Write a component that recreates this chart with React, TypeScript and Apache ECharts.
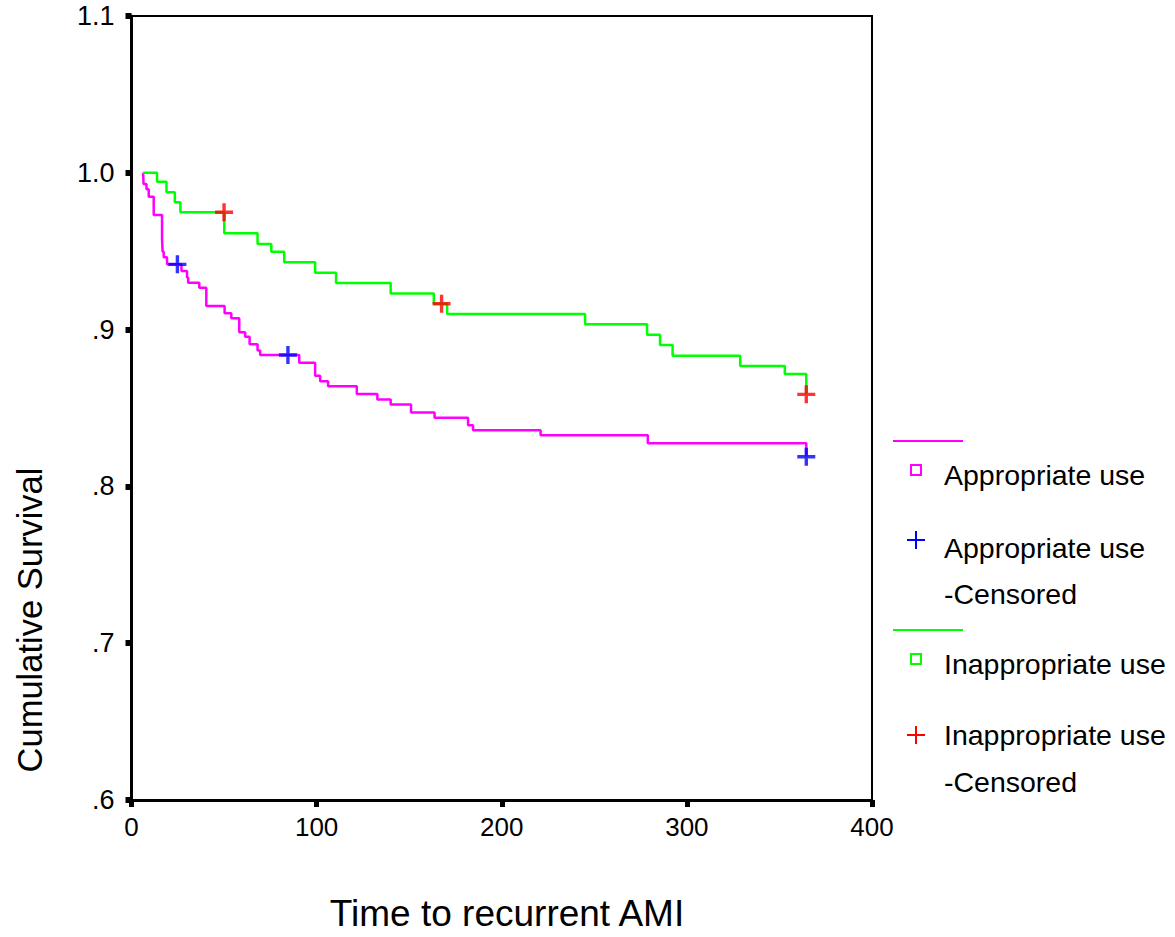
import React, { useEffect, useRef } from "react";
import * as echarts from "echarts";

// Kaplan-Meier step points: [time, survival after event]
const appropriateSteps: [number, number][] = [
  [6.3, 1.0], [6.5, 0.9929], [8.1, 0.9895], [9.3, 0.9848], [12.0, 0.9731],
  [16.5, 0.9578], [16.8, 0.9497], [17.4, 0.9461], [19.2, 0.9416], [27.0, 0.9374],
  [30.0, 0.9333], [30.6, 0.9299], [36.6, 0.9267], [40.4, 0.915], [50.3, 0.9104],
  [53.9, 0.9072], [58.2, 0.8983], [61.4, 0.8955], [63.8, 0.8906], [68.1, 0.8866],
  [69.5, 0.8838], [90.6, 0.8789], [99.2, 0.8706], [101.9, 0.867], [106.2, 0.8638],
  [121.7, 0.8589], [132.8, 0.8555], [140.0, 0.8523], [151.0, 0.8472], [163.7, 0.8438],
  [181.8, 0.839], [184.5, 0.8358], [221.0, 0.8326], [278.9, 0.8275], [364.5, 0.8189],
];
const appropriateCensored: [number, number][] = [
  [24.8, 0.9416], [84.5, 0.8838], [364.5, 0.8189],
];
const inappropriateSteps: [number, number][] = [
  [6.3, 1.0], [13.8, 0.9943], [18.9, 0.9876], [23.4, 0.9812], [26.4, 0.9748],
  [50.1, 0.9614], [68.1, 0.9546], [75.5, 0.9497], [82.5, 0.9429], [99.2, 0.9363],
  [110.5, 0.9297], [140.0, 0.9231], [163.3, 0.9165], [170.5, 0.9099], [245.0, 0.9034],
  [278.5, 0.8967], [285.5, 0.8902], [292.3, 0.8834], [328.8, 0.8768], [352.9, 0.8717],
  [364.5, 0.8587],
];
const inappropriateCensored: [number, number][] = [
  [50.0, 0.9748], [167.5, 0.9165], [364.5, 0.8587],
];
const xTicks = [0, 100, 200, 300, 400];
const yTicks = [0.6, 0.7, 0.8, 0.9, 1.0, 1.1];

const MAGENTA = "#ff00ff";
const GREEN = "#00ff00";
const BLUE = "#0000ff";
const RED = "#ff0000";
const FONT = "Liberation Sans, Arial, sans-serif";
const PLUS = "path://M7.3,0H10.7V7.3H18V10.7H10.7V18H7.3V10.7H0V7.3H7.3Z";

function plus(cx: number, cy: number, color: string) {
  return [
    { type: "line", shape: { x1: cx - 9, y1: cy, x2: cx + 9, y2: cy }, style: { stroke: color, lineWidth: 2 } },
    { type: "line", shape: { x1: cx, y1: cy - 9, x2: cx, y2: cy + 9 }, style: { stroke: color, lineWidth: 2 } },
  ];
}
function label(text: string, y: number) {
  return {
    type: "text",
    x: 944,
    y,
    style: { text, fill: "#000", font: `28.5px ${FONT}`, textVerticalAlign: "middle", textAlign: "left" },
  };
}

export default function App() {
  const ref = useRef<HTMLDivElement>(null);
  useEffect(() => {
    if (!ref.current) return;
    const chart = echarts.init(ref.current, null, { renderer: "svg" });
    chart.setOption({
      animation: false,
      backgroundColor: "#fff",
      grid: {
        left: 131.5,
        right: 1175 - 872,
        top: 16,
        bottom: 937 - 800,
        show: true,
        borderColor: "#000",
        borderWidth: 2,
        backgroundColor: "transparent",
      },
      xAxis: {
        type: "value",
        min: xTicks[0],
        max: xTicks[xTicks.length - 1],
        interval: 100,
        splitLine: { show: false },
        axisLine: { show: true, lineStyle: { color: "#000", width: 3 } },
        axisTick: { show: true, length: 7, lineStyle: { color: "#000", width: 5 } },
        axisLabel: { color: "#000", fontSize: 26, fontFamily: FONT, margin: 14 },
      },
      yAxis: {
        type: "value",
        min: yTicks[0],
        max: yTicks[yTicks.length - 1],
        interval: 0.1,
        splitLine: { show: false },
        axisLine: { show: true, lineStyle: { color: "#000", width: 3 } },
        axisTick: { show: true, length: 6, lineStyle: { color: "#000", width: 6 } },
        axisLabel: {
          color: "#000",
          fontSize: 27,
          fontFamily: FONT,
          margin: 17,
          formatter: (v: number) => {
            const s = (Math.round(v * 10) / 10).toFixed(1);
            return v < 1 ? s.replace(/^0/, "") : s;
          },
        },
      },
      series: [
        {
          type: "line",
          step: "end",
          data: appropriateSteps,
          showSymbol: false,
          lineStyle: { color: MAGENTA, width: 2.5 },
          z: 2,
        },
        {
          type: "line",
          step: "end",
          data: inappropriateSteps,
          showSymbol: false,
          lineStyle: { color: GREEN, width: 2.5 },
          z: 2,
        },
        {
          type: "scatter",
          data: appropriateCensored,
          symbol: PLUS,
          symbolSize: 18,
          itemStyle: { color: BLUE },
          z: 3,
        },
        {
          type: "scatter",
          data: inappropriateCensored,
          symbol: PLUS,
          symbolSize: 18,
          itemStyle: { color: RED },
          z: 3,
        },
      ],
      graphic: [
        {
          type: "text",
          x: 30,
          y: 620,
          rotation: Math.PI / 2,
          style: {
            text: "Cumulative Survival",
            fill: "#000",
            font: `34.5px ${FONT}`,
            textAlign: "center",
            textVerticalAlign: "middle",
          },
        },
        {
          type: "text",
          x: 507,
          y: 913,
          style: {
            text: "Time to recurrent AMI",
            fill: "#000",
            font: `37px ${FONT}`,
            textAlign: "center",
            textVerticalAlign: "middle",
          },
        },
        { type: "line", shape: { x1: 893, y1: 441, x2: 963, y2: 441 }, style: { stroke: MAGENTA, lineWidth: 2 } },
        { type: "rect", shape: { x: 911, y: 465, width: 10, height: 10 }, style: { stroke: MAGENTA, fill: "none", lineWidth: 2 } },
        label("Appropriate use", 475),
        ...plus(916, 540, BLUE),
        label("Appropriate use", 548),
        label("-Censored", 594),
        { type: "line", shape: { x1: 893, y1: 630, x2: 963, y2: 630 }, style: { stroke: GREEN, lineWidth: 2 } },
        { type: "rect", shape: { x: 911, y: 654, width: 10, height: 10 }, style: { stroke: GREEN, fill: "none", lineWidth: 2 } },
        label("Inappropriate use", 664),
        ...plus(916, 735, RED),
        label("Inappropriate use", 735),
        label("-Censored", 782),
      ],
    });
    return () => chart.dispose();
  }, []);
  return (
    <div
      ref={ref}
      style={{ position: "absolute", left: 0, top: 0, width: 1175, height: 937, background: "#fff" }}
    />
  );
}
